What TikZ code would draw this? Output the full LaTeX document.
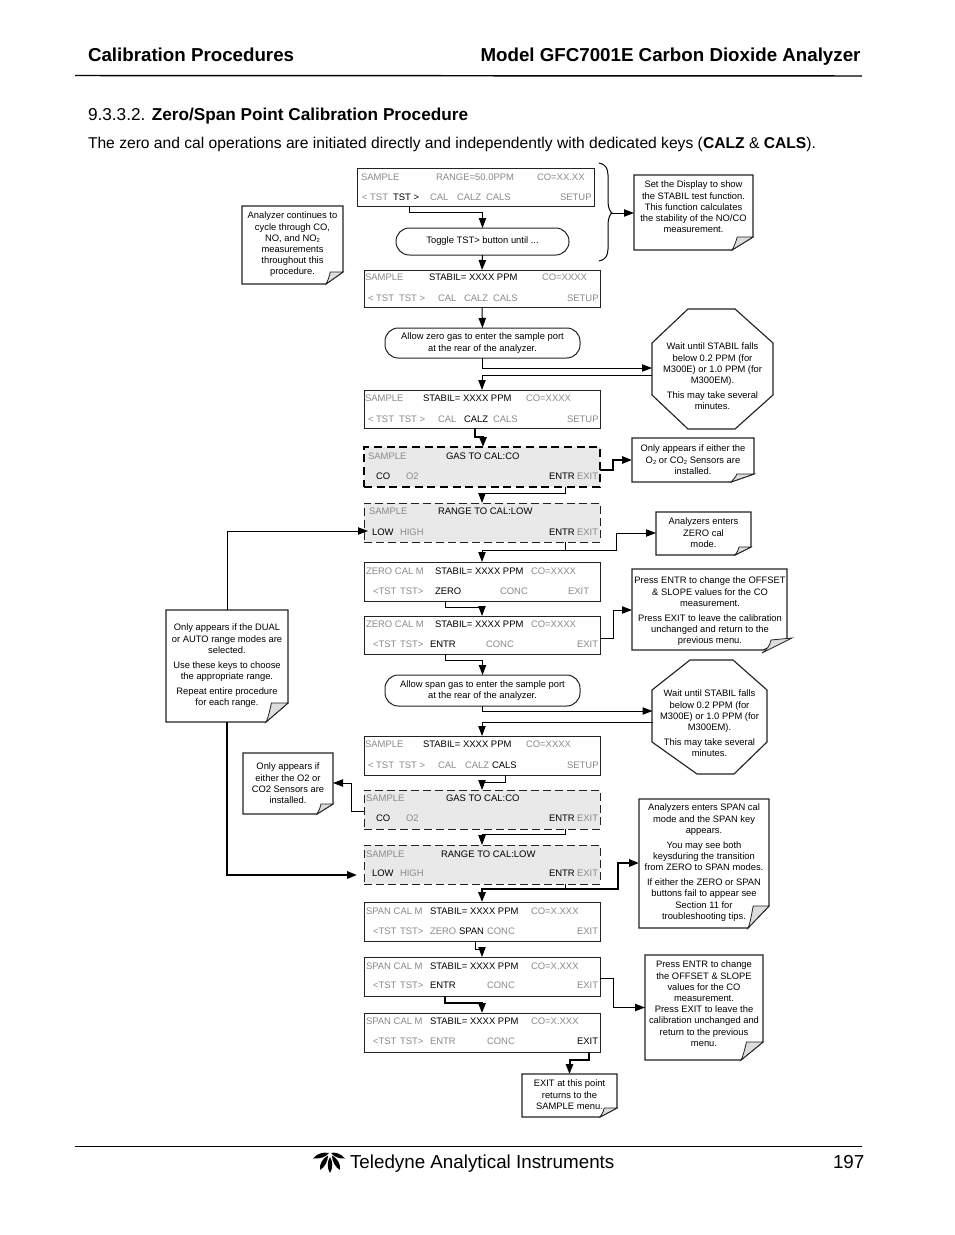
\documentclass[tikz,border=0pt]{standalone}
\usepackage{fontspec}
\setmainfont{Liberation Sans}
\usetikzlibrary{arrows.meta,calc}
\definecolor{keygray}{HTML}{8A8A8A}
\definecolor{panelfill}{HTML}{E9E9E9}
\definecolor{foldfill}{HTML}{DDDDDD}
\definecolor{edgeblack}{HTML}{222222}
\newcounter{tn}
\tikzset{
  boxnode/.style={rectangle,inner sep=0pt,outer sep=0pt},
  panelbox/.style={boxnode,draw=edgeblack,line width=.75pt,fill=white},
  dashpanel/.style={boxnode,draw=edgeblack,line width=.75pt,fill=panelfill,dash pattern=on 6pt off 3pt},
  dashthick/.style={boxnode,draw=black,line width=1.6pt,fill=panelfill,dash pattern=on 6pt off 3.5pt},
  pillbox/.style={boxnode,draw=edgeblack,line width=.75pt,fill=white,rounded corners=10pt,align=center,font=\fontsize{7.03}{8.4}\selectfont},
  shapeline/.style={draw=edgeblack,line width=.85pt,fill=white,line join=miter},
  foldline/.style={draw=edgeblack,line width=.6pt,fill=foldfill},
  conn/.style={draw=black,line width=.75pt,-{Triangle[length=7.5pt,width=5.5pt]}},
  connthick/.style={draw=black,line width=1.5pt,-{Triangle[length=7.5pt,width=5.5pt]}},
  plainline/.style={draw=black,line width=.75pt},
  gkey/.style={inner sep=0pt,outer sep=0pt,anchor=base west,text=keygray,font=\fontsize{7.1}{8}\selectfont},
  bkey/.style={gkey,text=black},
  notetext/.style={inner sep=0pt,outer sep=0pt,anchor=north,align=center,text=black,yshift=-2pt,font=\fontsize{7.03}{8.4}\selectfont},
  pagetext/.style={inner sep=0pt,outer sep=0pt,anchor=base west,text=black},
  logoleaf/.style={fill=black,draw=none},
}
% gray and black panel texts: x, y(centre of caps), text
\newcommand\G[3]{\stepcounter{tn}\node[gkey] (t\arabic{tn}) at (#1,#2+3.4) {#3};}
\newcommand\B[3]{\stepcounter{tn}\node[bkey] (t\arabic{tn}) at (#1,#2+3.4) {#3};}
% panel: name x1 y1 x2 y2 style
\newcommand\panel[6]{%
  \pgfmathsetmacro\cx{(#2+#4)/2}\pgfmathsetmacro\cy{(#3+#5)/2}%
  \pgfmathsetmacro\pw{(#4-#2)*0.75}\pgfmathsetmacro\ph{(#5-#3)*0.75}%
  \node[#6,minimum width=\pw pt,minimum height=\ph pt] (#1) at (\cx,\cy) {};}
% note: name x1 y1 x2 y2 foldw foldh textTopY text
\newcommand\notebox[9]{%
  \pgfmathsetmacro\cx{(#2+#4)/2}\pgfmathsetmacro\cy{(#3+#5)/2}%
  \pgfmathsetmacro\pw{(#4-#2)*0.75}\pgfmathsetmacro\ph{(#5-#3)*0.75}%
  \pgfmathsetmacro\fx{#4-#6}\pgfmathsetmacro\fy{#5-#7}\pgfmathsetmacro\fq{#4-#6*0.75}%
  \node[boxnode,minimum width=\pw pt,minimum height=\ph pt] (#1) at (\cx,\cy) {};
  \path[shapeline] (#2,#3) -- (#4,#3) -- (#4,\fy) -- (\fx,#5) -- (#2,#5) -- cycle;
  \path[foldline] (#4,\fy) -- (\fq,\fy) .. controls (\fq-1,\fy+4) and (\fx+2,#5-3) .. (\fx,#5) -- cycle;
  \node[notetext] (#1t) at (\cx,#8) {#9};}
\newcommand\gap{\\[2.8pt]}
\newcommand\subtwo{\raisebox{-1.2pt}{\fontsize{4.4}{4}\selectfont 2}}
\begin{document}
\begin{tikzpicture}[x=0.75pt,y=-0.75pt]
\useasboundingbox (0,0) rectangle (954,1235);
\fill[white] (0,0) rectangle (954,1235);
% ---- page furniture
\node[pagetext,font=\fontsize{14.05}{16}\selectfont\bfseries] (hl) at (88,61.5) {Calibration Procedures};
\node[pagetext,font=\fontsize{14.05}{16}\selectfont\bfseries] (hr) at (480.5,61.5) {Model GFC7001E Carbon Dioxide Analyzer};
\coordinate (rtl) at (75,75.5); \coordinate (rtr) at (862,76);
\draw[line width=1.1pt,black] (rtl) -- (rtr);
\node[pagetext,font=\fontsize{12.9}{14}\selectfont] (sec) at (88,120) {9.3.3.2. \textbf{Zero/Span Point Calibration Procedure}};
\node[pagetext,font=\fontsize{11.72}{14}\selectfont] (para) at (88,148) {The zero and cal operations are initiated directly and independently with dedicated keys (\textbf{CALZ} \& \textbf{CALS}).};
\coordinate (rbl) at (75,1146.5); \coordinate (rbr) at (862,1146.5);
\draw[line width=.8pt,black] (rbl) -- (rbr);
\node[pagetext,font=\fontsize{14.1}{16}\selectfont] (ft) at (350,1168) {Teledyne Analytical Instruments};
\node[pagetext,font=\fontsize{14.1}{16}\selectfont] (pg) at (833,1168) {197};
% logo
\path[logoleaf] (313,1158.5) .. controls (318,1153) and (323,1152) .. (329,1153) .. controls (326,1157) and (320,1159) .. (313,1158.5) -- cycle;
\path[logoleaf] (345,1158.5) .. controls (340,1153) and (335,1152) .. (331,1153) .. controls (334,1157) and (340,1159) .. (345,1158.5) -- cycle;
\path[logoleaf] (328,1155.5) .. controls (323,1158) and (319,1164) .. (320,1170) .. controls (325,1167) and (328,1161) .. (328,1155.5) -- cycle;
\path[logoleaf] (332,1155.5) .. controls (337,1158) and (341,1164) .. (340,1170) .. controls (335,1167) and (332,1161) .. (332,1155.5) -- cycle;
\path[logoleaf] (330,1157) .. controls (327,1162) and (327,1168) .. (330,1173) .. controls (333,1168) and (333,1162) .. (330,1157) -- cycle;
% ---- panels
\panel{P1}{357}{168}{594}{206}{panelbox}
\panel{P2}{364}{270}{600}{307}{panelbox}
\panel{P3}{364}{390}{600}{428}{panelbox}
\panel{P4}{364}{447}{600}{487}{dashthick}
\panel{P5}{364}{503}{600}{542}{dashpanel}
\panel{P6}{364}{562}{600}{601}{panelbox}
\panel{P7}{364}{616}{600}{654}{panelbox}
\panel{P8}{364}{736}{600}{775}{panelbox}
\panel{P9}{364}{790}{600}{829}{dashpanel}
\panel{P10}{364}{845}{600}{884}{dashpanel}
\panel{P11}{364}{902}{600}{941}{panelbox}
\panel{P12}{364}{957}{600}{996}{panelbox}
\panel{P13}{364}{1013}{600}{1052}{panelbox}
% ---- panel texts
\G{361}{177}{SAMPLE}\G{436}{177}{RANGE=50.0PPM}\G{537}{177}{CO=XX.XX}
\G{362}{197}{< TST}\B{393}{197}{TST >}\G{430}{197}{CAL}\G{457}{197}{CALZ}\G{486}{197}{CALS}\G{560}{197}{SETUP}
\G{365}{277}{SAMPLE}\B{429}{277}{STABIL= XXXX PPM}\G{542}{277}{CO=XXXX}
\G{368}{298}{< TST}\G{399}{298}{TST >}\G{438}{298}{CAL}\G{464}{298}{CALZ}\G{493}{298}{CALS}\G{567}{298}{SETUP}
\G{365}{398}{SAMPLE}\B{423}{398}{STABIL= XXXX PPM}\G{526}{398}{CO=XXXX}
\G{368}{419}{< TST}\G{399}{419}{TST >}\G{438}{419}{CAL}\B{464}{419}{CALZ}\G{493}{419}{CALS}\G{567}{419}{SETUP}
\G{368}{456}{SAMPLE}\B{446}{456}{GAS TO CAL:CO}
\B{376}{476}{CO}\G{406}{476}{O2}\B{549}{476}{ENTR}\G{577}{476}{EXIT}
\G{369}{511}{SAMPLE}\B{438}{511}{RANGE TO CAL:LOW}
\B{372}{532}{LOW}\G{400}{532}{HIGH}\B{549}{532}{ENTR}\G{577}{532}{EXIT}
\G{366}{571}{ZERO CAL M}\B{435}{571}{STABIL= XXXX PPM}\G{531}{571}{CO=XXXX}
\G{373}{591}{<TST}\G{400}{591}{TST>}\B{435}{591}{ZERO}\G{500}{591}{CONC}\G{568}{591}{EXIT}
\G{366}{624}{ZERO CAL M}\B{435}{624}{STABIL= XXXX PPM}\G{531}{624}{CO=XXXX}
\G{373}{644}{<TST}\G{400}{644}{TST>}\B{430}{644}{ENTR}\G{486}{644}{CONC}\G{577}{644}{EXIT}
\G{365}{744}{SAMPLE}\B{423}{744}{STABIL= XXXX PPM}\G{526}{744}{CO=XXXX}
\G{368}{765}{< TST}\G{399}{765}{TST >}\G{438}{765}{CAL}\G{465}{765}{CALZ}\B{492}{765}{CALS}\G{567}{765}{SETUP}
\G{366}{798}{SAMPLE}\B{446}{798}{GAS TO CAL:CO}
\B{376}{818}{CO}\G{406}{818}{O2}\B{549}{818}{ENTR}\G{577}{818}{EXIT}
\G{366}{854}{SAMPLE}\B{441}{854}{RANGE TO CAL:LOW}
\B{372}{873}{LOW}\G{400}{873}{HIGH}\B{549}{873}{ENTR}\G{577}{873}{EXIT}
\G{366}{911}{SPAN CAL M}\B{430}{911}{STABIL= XXXX PPM}\G{531}{911}{CO=X.XXX}
\G{373}{931}{<TST}\G{400}{931}{TST>}\G{430}{931}{ZERO}\B{459}{931}{SPAN}\G{487}{931}{CONC}\G{577}{931}{EXIT}
\G{366}{966}{SPAN CAL M}\B{430}{966}{STABIL= XXXX PPM}\G{531}{966}{CO=X.XXX}
\G{373}{985}{<TST}\G{400}{985}{TST>}\B{430}{985}{ENTR}\G{487}{985}{CONC}\G{577}{985}{EXIT}
\G{366}{1021}{SPAN CAL M}\B{430}{1021}{STABIL= XXXX PPM}\G{531}{1021}{CO=X.XXX}
\G{373}{1041}{<TST}\G{400}{1041}{TST>}\G{430}{1041}{ENTR}\G{487}{1041}{CONC}\B{577}{1041}{EXIT}
% ---- rounded boxes
\node[pillbox,minimum width=129.75pt,minimum height=20.25pt] (R1) at (482.5,241.5) {Toggle TST> button until ...};
\node[pillbox,minimum width=146.25pt,minimum height=22.5pt] (R2) at (482.5,343) {Allow zero gas to enter the sample port\\at the rear of the analyzer.};
\node[pillbox,minimum width=146.25pt,minimum height=23.25pt] (R3) at (482.5,690.5) {Allow span gas to enter the sample port\\at the rear of the analyzer.};
% ---- octagons
\node[boxnode,minimum width=90.75pt,minimum height=90pt] (O1) at (712.5,369) {};
\path[shapeline] (688,309) -- (735,309) -- (773,343) -- (773,395) -- (735,429) -- (688,429) -- (652,395) -- (652,343) -- cycle;
\node[notetext] (O1t) at (712.5,340.5) {Wait until STABIL falls\\below 0.2 PPM (for\\M300E) or 1.0 PPM (for\\M300EM).\gap This may take several\\minutes.};
\node[boxnode,minimum width=85.5pt,minimum height=85.5pt] (O2) at (709.5,717) {};
\path[shapeline] (690,660) -- (733,660) -- (767,690) -- (767,742) -- (734,774) -- (697,774) -- (652,742) -- (652,690) -- cycle;
\node[notetext] (O2t) at (709.5,687.5) {Wait until STABIL falls\\below 0.2 PPM (for\\M300E) or 1.0 PPM (for\\M300EM).\gap This may take several\\minutes.};
% ---- notes
\notebox{N1}{634}{175}{753}{250}{21}{13}{178.5}{Set the Display to show\\the STABIL test function.\\This function calculates\\the stability of the NO/CO\\measurement.}
\notebox{N2}{242}{206}{343}{284}{17}{12}{209.5}{Analyzer continues to\\cycle through CO,\\NO, and NO\subtwo\\measurements\\throughout this\\procedure.}
\notebox{N3}{632}{438}{754}{482}{23}{8}{442.5}{Only appears if either the\\O\subtwo{} or CO\subtwo{} Sensors are\\installed.}
\notebox{N4}{656}{512}{751}{555}{16}{8}{515.5}{Analyzers enters\\ZERO cal\\mode.}
\path[shapeline] (632,569) -- (787,569) -- (787,640) -- (763,650) -- (632,650) -- cycle;
\node[boxnode,minimum width=116.25pt,minimum height=60.75pt] (N5) at (709.5,609.5) {};
\path[foldline] (792,638) -- (771,640) .. controls (770,645) and (767,650) .. (762,653) -- cycle;
\node[notetext] (N5t) at (710,574.5) {Press ENTR to change the OFFSET\\\& SLOPE values for the CO\\measurement.\gap Press EXIT to leave the calibration\\unchanged and return to the\\previous menu.};
\notebox{N6}{243}{753}{333}{814}{16}{10}{760.5}{Only appears if\\either the O2 or\\CO2 Sensors are\\installed.}
\notebox{N7}{166}{610}{288}{722}{22}{19}{621.5}{Only appears if the DUAL\\or AUTO range modes are\\selected.\gap Use these keys to choose\\the appropriate range.\gap Repeat entire procedure\\for each range.}
\notebox{N8}{639}{799}{769}{928}{21}{22}{801.5}{Analyzers enters SPAN cal\\mode and the SPAN key\\appears.\gap You may see both\\keysduring the transition\\from ZERO to SPAN modes.\gap If either the ZERO or SPAN\\buttons fail to appear see\\Section 11 for\\troubleshooting tips.}
\notebox{N9}{645}{955}{763}{1060}{22}{18}{958.5}{Press ENTR to change\\the OFFSET \& SLOPE\\values for the CO\\measurement.\\Press EXIT to leave the\\calibration unchanged and\\return to the previous\\menu.}
\notebox{N10}{522}{1074}{617}{1117}{17}{9}{1077.5}{EXIT at this point\\returns to the\\SAMPLE menu.}
% ---- brace
\coordinate (bracetip) at (612,213);
\draw[plainline] (599,163) .. controls (605,164) and (608,168) .. (608,175) -- (608,200) .. controls (608,208) and (610,212) .. (bracetip) .. controls (610,214) and (608,218) .. (608,226) -- (608,249) .. controls (608,256) and (605,260) .. (599,261);
\draw[conn] (bracetip) -- (N1.west |- bracetip);
% ---- connectors
\draw[conn] ($(P1.south west)+(52,0)$) -- ++(0,6) -| (R1.north);
\draw[conn] (R1.south) -- (P2.north);
\draw[conn] (P2.south) -- (R2.north);
\draw[conn] (R2.south) -- ++(0,10) -- ($(O1.west)+(0,-1)$);
\draw[conn] ($(O1.west)+(0,6)$) -| (P3.north);
\draw[connthick] ($(P3.south west)+(111,0)$) -- ++(0,9) -| ($(P4.north)+(1,0)$);
\draw[conn] ($(P4.south west)+(201,0)$) -- ++(0,6) -| (P5.north);
\draw[connthick] ($(P4.east)+(0,2.5)$) -- ++(13,0) |- (N3.west);
\draw[conn] ($(P5.south west)+(201,0)$) -- ++(0,8) -| (P6.north);
\coordinate (j5) at ($(P5.south west)+(201,8)$);
\draw[conn] (j5) -- ++(51,0) |- ($(N4.west)+(0,-0.5)$);
\draw[conn] ($(P6.south west)+(81,0)$) -- ++(0,6) -| (P7.north);
\draw[conn] ($(P7.east)+(0,3)$) -- ++(13,0) |- ($(N5.west)+(0,0.5)$);
\draw[conn] ($(P7.south west)+(81,0)$) -- ++(0,6) -| (R3.north);
\draw[conn] (R3.south) -- ++(0,5) -- ($(O2.west)+(0,-6)$);
\draw[conn] ($(O2.west)+(0,5)$) -| (P8.north);
\draw[conn] ($(P8.south west)+(141,0)$) -- ++(0,7) -| (P9.north);
\draw[conn] ($(P9.west)+(0,1.5)$) -- ++(-13,0) |- ($(N6.east)+(0,-0.5)$);
\draw[conn] ($(P9.south west)+(201,0)$) -- ++(0,5) -| (P10.north);
\draw[conn] (N7.north) |- ($(P5.west)+(4,8.5)$);
\draw[connthick] (N7.south) |- ($(P10.west)+(-7,10.5)$);
\draw[plainline] ($(P10.south west)+(201,0)$) -- ++(0,5);
\coordinate (j10) at ($(P10.south west)+(201,5)$);
\draw[connthick] (j10) -| (P11.north);
\draw[connthick] (j10) -- ++(53,0) |- ($(N8.west)+(0,-0.5)$);
\draw[conn] ($(P11.south west)+(111,0)$) -- ++(0,8) -| (P12.north);
\draw[connthick] ($(P12.south west)+(81,0)$) -- ++(0,7) -| (P13.north);
\draw[conn] ($(P12.east)+(0,1.5)$) -- ++(13,0) |- (N9.west);
\draw[connthick] ($(P13.south west)+(225,0)$) -- ++(0,8) -| (N10.north);
\end{tikzpicture}
\end{document}
